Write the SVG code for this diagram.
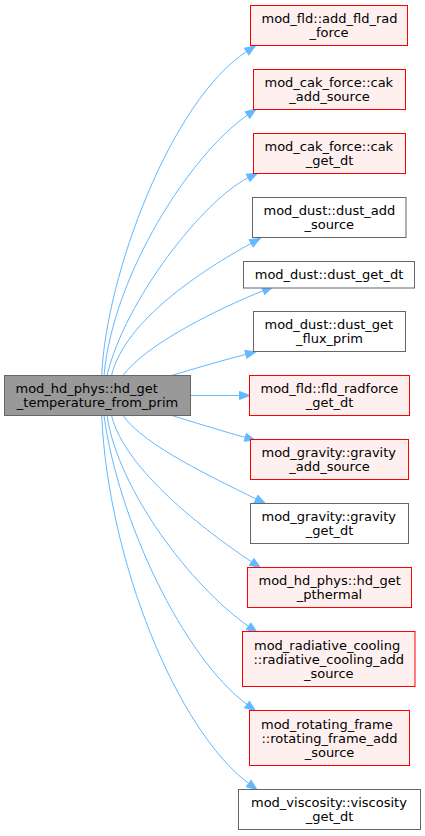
<svg xmlns="http://www.w3.org/2000/svg" width="425" height="836" viewBox="0 0 425 836">
<style>
  text { font-family: "DejaVu Sans", "Liberation Sans", sans-serif; font-size: 13px; fill: #000; }
  .main rect { fill: #999999; stroke: #666666; stroke-width: 1; }
  .red rect { fill: #fff0f0; stroke: #ff0000; stroke-width: 1; }
  .white rect { fill: #ffffff; stroke: #666666; stroke-width: 1; }
  .c { text-anchor: middle; }
  .s { text-anchor: start; }
  #edges path { fill: none; stroke: #63b8ff; stroke-width: 1; marker-end: url(#ah); }
</style>
<defs>
  <marker id="ah" markerUnits="userSpaceOnUse" markerWidth="12" markerHeight="10" refX="0" refY="4" orient="auto" overflow="visible">
    <path d="M0,0 L10.5,4 L0,8 Z" fill="#63b8ff" stroke="#63b8ff" stroke-width="1"/>
  </marker>
</defs>
<rect width="425" height="836" fill="#ffffff"/>
<g id="edges">
  <path d="M101.7,375.5 C106,275 171.2,100.5 246.6,51.5"/>
  <path d="M104,375.5 C113,275 190.1,154.9 247.5,115"/>
  <path d="M107,375.5 C125,300 203.4,200.2 248.1,177.8"/>
  <path d="M111.5,375.5 C125,320 203,269.8 251.2,243.3"/>
  <path d="M123,375.5 C145,345 216.8,309.3 263.2,290.7"/>
  <path d="M171.7,375.5 C190,370 220,361 245.8,354.4"/>
  <path d="M190.5,395.5 L239.5,395.5"/>
  <path d="M171.7,415.5 C190,421 220,430.5 245.3,437.4"/>
  <path d="M123,415.5 C145,446 211.4,476.7 256.1,499"/>
  <path d="M111.5,415.5 C125,470 206,531.3 251.7,561.9"/>
  <path d="M107,415.5 C118,490 191.2,586.2 248.5,626.3"/>
  <path d="M104,415.5 C118,520 183,656.5 247,704.5"/>
  <path d="M101.7,415.5 C108,560 176.7,729.5 248.7,783.5"/>
</g>
<g id="node_main" class="main">
  <rect x="4.5" y="375.5" width="186" height="40"/>
  <text class="s" x="15.5" y="392.5">mod_hd_phys::hd_get</text>
  <text class="c" x="97.5" y="406.5">_temperature_from_prim</text>
</g>
<g id="node1" class="red">
  <rect x="250.5" y="5.5" width="157" height="40"/>
  <text class="s" x="261.5" y="22.5">mod_fld::add_fld_rad</text>
  <text class="c" x="329" y="36.5">_force</text>
</g>
<g id="node2" class="red">
  <rect x="253.5" y="69.5" width="152" height="40"/>
  <text class="s" x="264.5" y="86.5">mod_cak_force::cak</text>
  <text class="c" x="329.5" y="100.5">_add_source</text>
</g>
<g id="node3" class="red">
  <rect x="253.5" y="133.5" width="152" height="40"/>
  <text class="s" x="264.5" y="150.5">mod_cak_force::cak</text>
  <text class="c" x="329.5" y="164.5">_get_dt</text>
</g>
<g id="node4" class="white">
  <rect x="252.5" y="197.5" width="153.5" height="40"/>
  <text class="s" x="263.5" y="214.5">mod_dust::dust_add</text>
  <text class="c" x="329.25" y="228.5">_source</text>
</g>
<g id="node5" class="white">
  <rect x="243.5" y="261.5" width="171" height="26.5"/>
  <text class="c" x="329" y="279">mod_dust::dust_get_dt</text>
</g>
<g id="node6" class="white">
  <rect x="253.5" y="311.5" width="152" height="40"/>
  <text class="s" x="264.5" y="328.5">mod_dust::dust_get</text>
  <text class="c" x="329.5" y="342.5">_flux_prim</text>
</g>
<g id="node7" class="red">
  <rect x="249.5" y="375.5" width="160" height="40"/>
  <text class="s" x="260.5" y="392.5">mod_fld::fld_radforce</text>
  <text class="c" x="329.5" y="406.5">_get_dt</text>
</g>
<g id="node8" class="red">
  <rect x="250.5" y="439.5" width="158" height="40"/>
  <text class="s" x="261.5" y="456.5">mod_gravity::gravity</text>
  <text class="c" x="329.5" y="470.5">_add_source</text>
</g>
<g id="node9" class="white">
  <rect x="250.5" y="503.5" width="158" height="40"/>
  <text class="s" x="261.5" y="520.5">mod_gravity::gravity</text>
  <text class="c" x="329.5" y="534.5">_get_dt</text>
</g>
<g id="node10" class="red">
  <rect x="247.5" y="567.5" width="164" height="40"/>
  <text class="s" x="258.5" y="584.5">mod_hd_phys::hd_get</text>
  <text class="c" x="329.5" y="598.5">_pthermal</text>
</g>
<g id="node11" class="red">
  <rect x="242.5" y="631.5" width="172.5" height="55"/>
  <text class="s" x="254" y="649.5">mod_radiative_cooling</text>
  <text class="c" x="328.75" y="663.5">::radiative_cooling_add</text>
  <text class="c" x="328.75" y="677.5">_source</text>
</g>
<g id="node12" class="red">
  <rect x="249.5" y="710.5" width="160" height="55"/>
  <text class="s" x="261" y="728.5">mod_rotating_frame</text>
  <text class="c" x="329.5" y="742.5">::rotating_frame_add</text>
  <text class="c" x="329.5" y="756.5">_source</text>
</g>
<g id="node13" class="white">
  <rect x="238.5" y="789.5" width="182" height="40"/>
  <text class="s" x="251" y="806.5">mod_viscosity::viscosity</text>
  <text class="c" x="329.5" y="820.5">_get_dt</text>
</g>
</svg>
